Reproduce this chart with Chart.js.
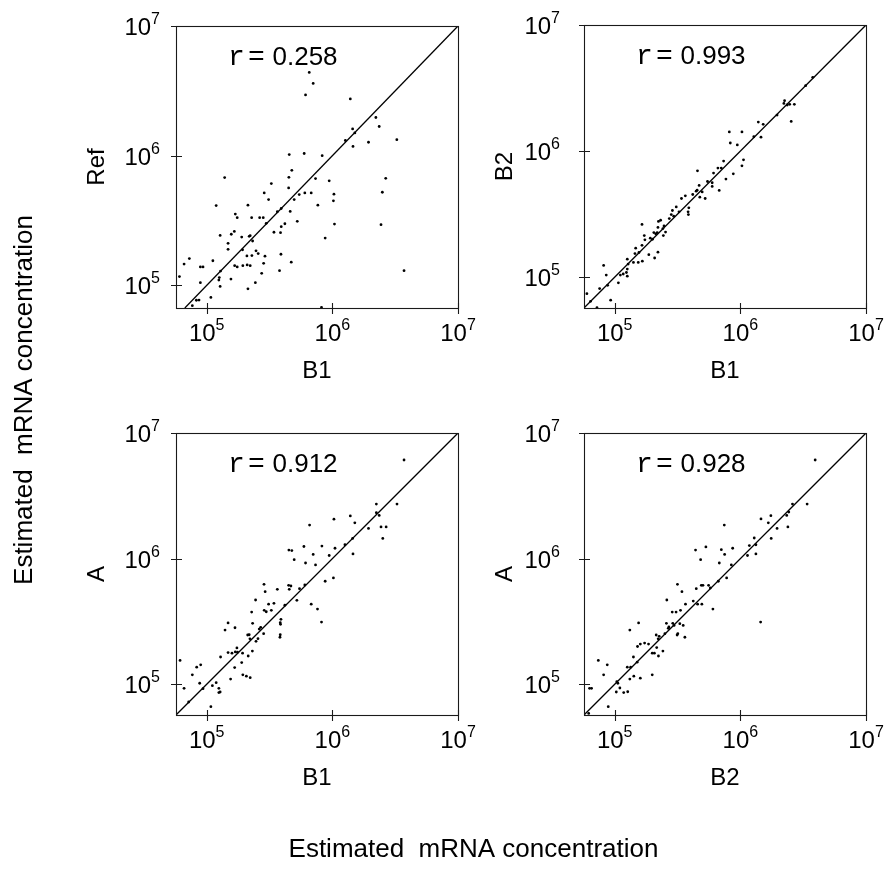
<!DOCTYPE html>
<html><head><meta charset="utf-8">
<script src="https://cdn.jsdelivr.net/npm/chart.js@4.4.1/dist/chart.umd.min.js"></script>
<style>
html,body{margin:0;padding:0;background:#fff;}
#wrap{position:relative;width:886px;height:872px;overflow:hidden;background:#fff;}
#wrap canvas{position:absolute;left:0;top:0;}
</style></head><body>
<div id="wrap">
<canvas id="c0" width="886" height="872"></canvas>
<canvas id="c1" width="886" height="872"></canvas>
<canvas id="c2" width="886" height="872"></canvas>
<canvas id="c3" width="886" height="872"></canvas>
</div>
<script>
// ---------- data ----------
const tickValues = [1e5, 1e6, 1e7];
const tickExponents = ['5', '6', '7'];
const axisMin = 5.7e4;
const axisMinRefY = 6.7e4;
const axisMax = 1e7;
const rValues = ['0.258', '0.993', '0.912', '0.928'];
const xTitles = ['B1', 'B1', 'B1', 'B2'];
const yTitles = ['Ref', 'B2', 'A', 'A'];
const commonTitle = 'Estimated  mRNA concentration';

// Panel 1: Ref (y) vs B1 (x)
const p1x = [6.55e5,7.04e5,6.12e5,1.39e6,2.22e6,2.36e6,1.45e6,1.51e6,1.27e6,3.26e6,1.94e6,1.46e6,4.54e5,5.97e5,8.30e5,4.76e5,1.39e5,4.51e5,7.35e5,9.44e5,2.66e6,3.27e5,4.49e5,2.87e5,6.04e5,6.79e5,5.45e5,1.03e6,2.50e6,4.97e5,3.11e5,1.02e6,1.19e5,2.13e5,7.67e5,3.92e5,3.65e5,4.62e5,1.69e5,1.75e5,2.28e5,2.64e5,2.82e5,5.26e5,2.98e5,4.19e5,1.04e6,2.44e6,3.92e5,1.66e5,1.57e5,1.28e5,3.43e5,3.87e5,1.90e5,2.18e5,2.22e5,8.77e5,2.32e5,1.48e5,1.48e5,1.93e5,2.47e5,2.57e5,2.09e5,2.29e5,2.91e5,3.90e5,1.12e5,4.71e5,6.61e4,7.28e4,2.84e5,8.91e4,9.35e4,1.67e5,1.75e5,1.94e5,2.10e5,2.22e5,3.80e5,1.29e5,3.72e6,2.74e5,6.07e4,1.26e5,1.25e5,1.56e5,8.91e4,2.44e5,1.28e5,2.13e5,1.08e5,8.69e4,8.28e4,7.69e4,8.20e5];
const p1y = [4.39e6,3.61e6,2.94e6,2.74e6,1.97e6,1.68e6,1.61e6,1.50e6,1.31e6,1.33e6,1.27e6,1.18e6,1.02e6,1.04e6,1.00e6,7.71e5,6.78e5,6.82e5,6.67e5,6.40e5,6.70e5,6.10e5,5.65e5,5.17e5,5.17e5,5.17e5,5.02e5,5.05e5,5.23e5,4.59e5,4.59e5,4.49e5,4.13e5,4.16e5,4.16e5,3.92e5,3.70e5,3.72e5,3.55e5,3.33e5,3.33e5,3.33e5,3.33e5,3.12e5,3.01e5,2.99e5,2.97e5,2.94e5,2.84e5,2.61e5,2.48e5,2.43e5,2.57e5,2.55e5,2.36e5,2.39e5,2.42e5,2.32e5,2.20e5,2.11e5,1.90e5,1.88e5,1.85e5,1.76e5,1.69e5,1.70e5,1.68e5,1.74e5,1.55e5,1.51e5,1.46e5,1.61e5,1.48e5,1.39e5,1.39e5,1.42e5,1.39e5,1.42e5,1.44e5,1.42e5,1.30e5,1.29e5,1.30e5,1.24e5,1.17e5,1.15e5,1.10e5,1.12e5,1.05e5,1.05e5,9.82e4,9.42e4,8.09e4,7.71e4,7.69e4,6.98e4,6.78e4];

// Panel 2: B2 (y) vs B1 (x)
const p2x = [3.77e6,3.31e6,2.25e6,2.22e6,2.36e6,2.47e6,2.69e6,1.96e6,2.54e6,1.39e6,1.52e6,1.28e6,1.46e6,8.17e5,1.03e6,8.32e5,9.46e5,1.06e6,7.36e5,1.03e6,6.63e5,7.05e5,4.56e5,6.12e5,8.79e5,7.68e5,5.48e5,5.97e5,4.70e5,5.97e5,4.53e5,4.45e5,4.97e5,6.79e5,4.18e5,4.76e5,5.25e5,3.65e5,3.40e5,3.09e5,2.88e5,2.82e5,2.95e5,3.89e5,3.84e5,3.86e5,3.25e5,2.72e5,2.32e5,2.23e5,1.65e5,2.47e5,2.21e5,2.42e5,2.05e5,2.18e5,2.54e5,2.12e5,1.72e5,2.44e5,1.92e5,2.00e5,1.74e5,1.65e5,1.47e5,1.56e5,1.45e5,1.87e5,2.21e5,1.54e5,1.66e5,1.26e5,1.28e5,1.41e5,2.08e5,1.26e5,1.24e5,1.17e5,1.11e5,1.26e5,8.17e4,8.57e4,1.07e5,7.59e4,8.79e4,6.01e4,6.43e4,9.29e4,7.23e4];
const p2y = [3.85e6,3.30e6,2.51e6,2.39e6,2.32e6,2.35e6,2.35e6,1.93e6,1.72e6,1.70e6,1.63e6,1.30e6,1.29e6,1.42e6,1.42e6,1.16e6,1.12e6,8.53e5,8.33e5,7.65e5,7.33e5,7.33e5,6.98e5,6.69e5,6.61e5,6.00e5,5.74e5,5.61e5,5.34e5,5.25e5,4.90e5,4.81e5,4.75e5,4.88e5,4.53e5,4.31e5,4.21e5,4.42e5,4.21e5,3.61e5,3.38e5,3.14e5,3.05e5,3.55e5,3.30e5,3.14e5,3.30e5,2.92e5,2.83e5,2.77e5,2.62e5,2.55e5,2.48e5,2.43e5,2.26e5,2.26e5,2.28e5,2.21e5,2.14e5,2.14e5,2.04e5,2.00e5,1.98e5,1.79e5,1.70e5,1.57e5,1.54e5,1.51e5,1.58e5,1.31e5,1.34e5,1.39e5,1.27e5,1.31e5,1.42e5,1.16e5,1.09e5,1.06e5,1.04e5,1.02e5,1.24e5,1.04e5,9.02e4,8.13e4,8.63e4,7.41e4,6.44e4,6.57e4,5.74e4];

// Panel 3: A (y) vs B1 (x)
const p3x = [3.72e6,2.24e6,3.27e6,2.24e6,2.36e6,1.39e6,1.51e6,1.03e6,6.59e5,1.94e6,2.44e6,2.68e6,2.52e6,1.45e6,1.26e6,8.26e5,5.94e5,1.05e6,4.51e5,4.76e5,7.04e5,9.44e5,1.46e6,4.97e5,6.12e5,7.35e5,1.02e6,8.77e5,2.86e5,4.49e5,4.68e5,6.04e5,3.65e5,4.54e5,5.48e5,2.92e5,5.22e5,2.45e5,6.79e5,7.62e5,3.11e5,3.43e5,4.19e5,2.28e5,2.87e5,2.98e5,3.27e5,3.90e5,3.85e5,3.87e5,8.20e5,2.32e5,1.48e5,1.68e5,1.40e5,2.69e5,2.62e5,2.12e5,2.18e5,2.21e5,2.56e5,2.84e5,3.85e5,3.83e5,2.47e5,2.31e5,2.14e5,1.74e5,1.76e5,1.93e5,1.48e5,1.59e5,1.29e5,1.69e5,1.90e5,1.67e5,1.94e5,2.07e5,2.22e5,1.55e5,8.33e4,8.96e4,7.69e4,6.14e4,1.19e5,1.11e5,8.80e4,1.25e5,1.28e5,1.25e5,6.61e4,9.35e4,7.19e4,1.08e5];
const p3y = [6.10e6,2.72e6,2.72e6,2.32e6,2.21e6,2.19e6,1.93e6,2.06e6,1.85e6,1.74e6,1.79e6,1.79e6,1.45e6,1.45e6,1.29e6,1.26e6,1.25e6,1.21e6,1.17e6,1.16e6,1.08e6,1.06e6,1.09e6,9.82e5,9.24e5,8.91e5,7.02e5,6.61e5,6.25e5,6.14e5,6.06e5,6.17e5,5.70e5,5.70e5,5.77e5,5.46e5,4.66e5,4.69e5,4.34e5,3.97e5,4.34e5,4.41e5,4.26e5,3.76e5,3.88e5,3.78e5,3.88e5,3.29e5,3.09e5,3.00e5,3.13e5,3.06e5,3.08e5,2.82e5,2.70e5,2.84e5,2.75e5,2.47e5,2.48e5,2.30e5,2.31e5,2.53e5,2.48e5,2.37e5,2.20e5,1.84e5,1.68e5,1.95e5,1.80e5,1.77e5,1.79e5,1.77e5,1.65e5,1.81e5,1.49e5,1.36e5,1.19e5,1.16e5,1.13e5,1.10e5,1.37e5,1.43e5,1.19e5,1.55e5,1.03e5,9.75e4,1.02e5,9.29e4,8.69e4,8.59e4,9.29e4,9.23e4,7.23e4,6.64e4];

// Panel 4: A (y) vs B2 (x)
const p4x = [3.94e6,2.60e6,3.40e6,2.43e6,2.34e6,1.75e6,1.46e6,1.67e6,7.45e5,1.96e6,2.39e6,1.29e6,1.76e6,1.18e6,1.33e6,4.40e5,5.32e5,7.06e5,8.69e5,1.14e6,1.33e6,7.50e5,4.83e5,6.80e5,8.48e5,7.78e5,6.68e5,3.16e5,4.46e5,4.89e5,5.04e5,5.59e5,5.77e5,3.43e5,2.60e5,4.22e5,4.57e5,4.94e5,3.66e5,6.05e5,2.87e5,3.08e5,3.34e5,1.55e5,1.45e6,2.58e5,2.90e5,3.30e5,2.70e5,2.97e5,3.51e5,2.67e5,3.18e5,3.14e5,3.62e5,2.14e5,2.26e5,1.32e5,2.22e5,2.51e5,1.86e5,1.60e5,1.73e5,1.52e5,2.16e5,2.42e5,1.99e5,2.07e5,2.23e5,1.41e5,1.26e5,1.34e5,1.51e5,7.41e4,8.73e4,8.17e4,1.42e5,1.60e5,1.32e5,1.99e5,1.04e5,1.06e5,1.10e5,1.03e5,1.18e5,1.27e5,6.31e4,6.55e4,8.89e4,6.21e4];
const p4y = [6.10e6,2.72e6,2.72e6,2.35e6,2.21e6,2.20e6,2.07e6,1.93e6,1.85e6,1.74e6,1.79e6,1.46e6,1.45e6,1.27e6,1.29e6,1.17e6,1.24e6,1.18e6,1.21e6,1.06e6,1.09e6,1.08e6,9.82e5,9.24e5,8.91e5,7.02e5,6.61e5,6.25e5,5.77e5,6.14e5,6.14e5,6.14e5,5.84e5,5.46e5,4.69e5,4.60e5,4.34e5,4.34e5,4.34e5,3.97e5,3.76e5,3.76e5,3.88e5,3.08e5,3.13e5,3.06e5,3.06e5,3.04e5,2.86e5,2.94e5,2.94e5,2.79e5,2.53e5,2.47e5,2.37e5,2.47e5,2.41e5,2.70e5,2.30e5,2.53e5,2.09e5,2.09e5,2.13e5,2.00e5,1.96e5,1.84e5,1.77e5,1.77e5,1.68e5,1.65e5,1.37e5,1.37e5,1.50e5,1.55e5,1.43e5,1.19e5,1.16e5,1.12e5,1.10e5,1.19e5,1.05e5,1.02e5,9.35e4,8.69e4,8.59e4,8.73e4,9.29e4,9.29e4,6.64e4,5.87e4];

// ---------- layout (positions/styles) ----------
const W = 886, H = 872;
const SANS = "'Liberation Sans', Arial, Helvetica, sans-serif";
const MONO = "'Liberation Mono', 'Courier New', monospace";
const boxes = [
  {l:176, t:26,  r:458, b:308, gap:16},
  {l:584, t:25,  r:866, b:308, gap:24},
  {l:176, t:433, r:458, b:715, gap:16},
  {l:584, t:433, r:866, b:715, gap:24}
];
const panels = [
  {xs:p1x, ys:p1y, yMin:axisMinRefY},
  {xs:p2x, ys:p2y, yMin:axisMin},
  {xs:p3x, ys:p3y, yMin:axisMin},
  {xs:p4x, ys:p4y, yMin:axisMin}
];

function drawPow(ctx, x, y, exp, align) {
  ctx.font = '24px ' + SANS;
  const w1 = ctx.measureText('10').width;
  ctx.font = '16px ' + SANS;
  const w2 = ctx.measureText(exp).width;
  const tw = w1 + w2;
  let sx = align === 'center' ? x - tw / 2 : x - tw;
  ctx.textAlign = 'left';
  ctx.textBaseline = 'alphabetic';
  ctx.font = '24px ' + SANS;
  ctx.fillText('10', sx, y);
  ctx.font = '16px ' + SANS;
  ctx.fillText(exp, sx + w1, y - 11);
}

function makeDecor(i) {
  return {
    id: 'decor' + i,
    afterDatasetsDraw(chart) {
      const ctx = chart.ctx, a = chart.chartArea;
      const xs = chart.scales.x, ys = chart.scales.y;
      const gap = boxes[i].gap;
      ctx.save();
      ctx.strokeStyle = '#1a1a1a';
      ctx.lineWidth = 1.1;
      ctx.strokeRect(a.left + 0.5, a.top + 0.5, a.right - a.left, a.bottom - a.top);
      ctx.beginPath();
      tickValues.forEach(v => {
        const px = Math.round(xs.getPixelForValue(v)) + 0.5;
        ctx.moveTo(px, a.bottom - 5); ctx.lineTo(px, a.bottom + 6);
        const py = Math.round(ys.getPixelForValue(v)) + 0.5;
        ctx.moveTo(a.left - 5, py); ctx.lineTo(a.left + 6, py);
      });
      ctx.stroke();
      ctx.fillStyle = '#000';
      tickValues.forEach((v, k) => {
        drawPow(ctx, xs.getPixelForValue(v), a.bottom + 33, tickExponents[k], 'center');
        drawPow(ctx, a.left - gap, ys.getPixelForValue(v) + 9, tickExponents[k], 'right');
      });
      // axis titles
      ctx.font = '24px ' + SANS;
      ctx.textAlign = 'center';
      ctx.textBaseline = 'alphabetic';
      ctx.fillText(xTitles[i], (a.left + a.right) / 2, a.bottom + 70);
      ctx.save();
      ctx.translate(a.left - 72, (a.top + a.bottom) / 2);
      ctx.rotate(-Math.PI / 2);
      ctx.fillText(yTitles[i], 0, 0);
      ctx.restore();
      // r label
      ctx.textAlign = 'left';
      ctx.font = '28px ' + MONO;
      ctx.fillText('r', a.left + 52, a.top + 39);
      ctx.fillText('=', a.left + 72, a.top + 39);
      ctx.font = '26px ' + SANS;
      ctx.fillText(rValues[i], a.left + 96.5, a.top + 39);
      if (i === 0) {
        ctx.font = '26px ' + SANS;
        ctx.textAlign = 'center';
        ctx.fillText(commonTitle, 473.5, 857);
        ctx.save();
        ctx.translate(32, 400);
        ctx.rotate(-Math.PI / 2);
        ctx.fillText(commonTitle, 0, 0);
        ctx.restore();
      }
      ctx.restore();
    }
  };
}

panels.forEach((p, i) => {
  const b = boxes[i];
  const lo = Math.max(axisMin, p.yMin);
  new Chart(document.getElementById('c' + i), {
    type: 'scatter',
    data: {
      datasets: [
        {
          data: p.xs.map((x, k) => ({x: x, y: p.ys[k]})),
          pointRadius: 1.4,
          pointBackgroundColor: '#000',
          pointBorderWidth: 0,
          showLine: false
        },
        {
          data: [{x: lo, y: lo}, {x: axisMax, y: axisMax}],
          showLine: true,
          borderColor: '#000',
          borderWidth: 1.3,
          pointRadius: 0,
          fill: false
        }
      ]
    },
    options: {
      responsive: false,
      animation: false,
      events: [],
      layout: {padding: {left: b.l, top: b.t, right: W - b.r, bottom: H - b.b}},
      plugins: {legend: {display: false}, tooltip: {enabled: false}},
      scales: {
        x: {type: 'logarithmic', display: false, min: axisMin, max: axisMax, bounds: 'data'},
        y: {type: 'logarithmic', display: false, min: p.yMin, max: axisMax, bounds: 'data'}
      }
    },
    plugins: [makeDecor(i)]
  });
});
</script>
</body></html>
